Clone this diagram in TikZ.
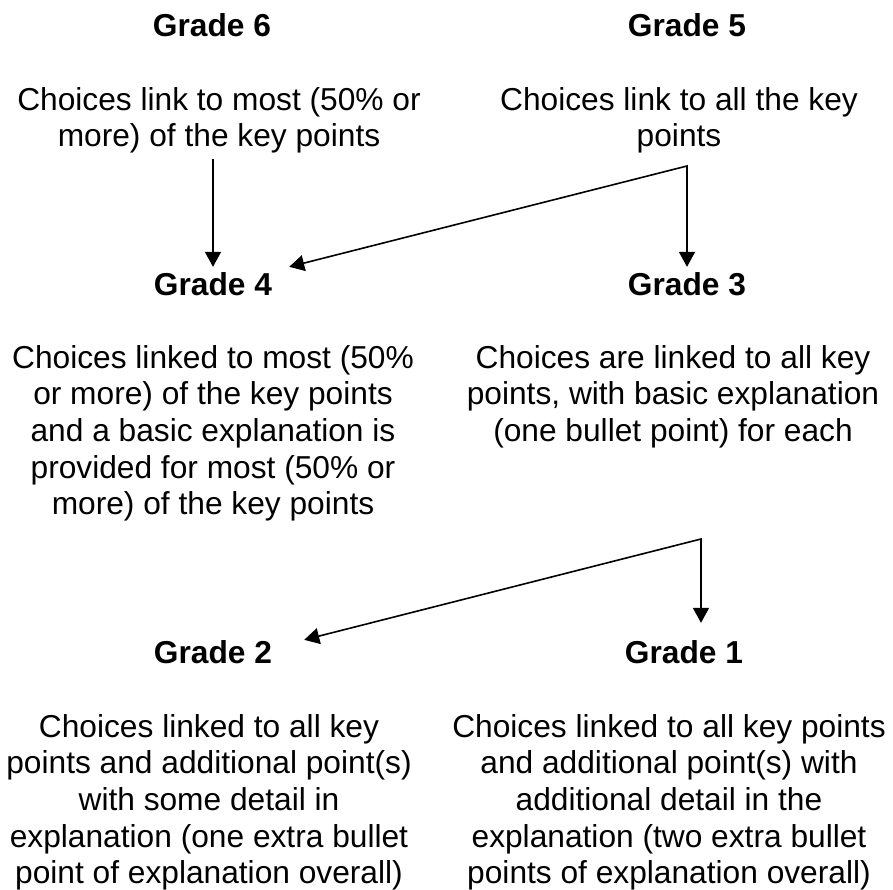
\documentclass[tikz,border=0pt]{standalone}
\usepackage{fontspec}
\setmainfont{Liberation Sans}
\usetikzlibrary{arrows.meta,calc}
\newcommand{\mytopstr}{\rule{0pt}{23pt}}
\begin{document}
\begin{tikzpicture}[x=1pt,y=-1pt,
  grade/.style={font=\fontsize{31.7}{36.6}\selectfont\bfseries, inner xsep=0pt, inner ysep=5pt, anchor=base},
  desc/.style={font=\fontsize{31.7}{36.6}\selectfont, align=center, inner sep=0pt, anchor=north},
  tipa/.style={line width=1.6pt, line join=miter, -{Triangle[length=15pt,width=16pt]}},
  tipb/.style={line width=1.6pt, line join=miter, {Triangle[length=15pt,width=16pt]}-{Triangle[length=15pt,width=16pt]}}]
\useasboundingbox (0,0) rectangle (893,890);

\node[grade] (g6) at (212,37) {Grade 6};
\node[grade] (g5) at (687,37) {Grade 5};
\node[desc] (d6) at (219,87) {\mytopstr Choices link to most (50\% or\\more) of the key points};
\node[desc] (d5) at (679,87) {\mytopstr Choices link to all the key\\points};

\node[grade] (g4) at (213,295) {Grade 4};
\node[grade] (g3) at (687,295) {Grade 3};
\node[desc] (d4) at (213,345) {\mytopstr Choices linked to most (50\%\\or more) of the key points\\and a basic explanation is\\provided for most (50\% or\\more) of the key points};
\node[desc] (d3) at (673,345) {\mytopstr Choices are linked to all key\\points, with basic explanation\\(one bullet point) for each};

\node[grade] (g2) at (213,663) {Grade 2};
\node[grade] (g1) at (684,663) {Grade 1};
\node[desc] (d2) at (209,714) {\mytopstr Choices linked to all key\\points and additional point(s)\\with some detail in\\explanation (one extra bullet\\point of explanation overall)};
\node[desc] (d1) at (669,714) {\mytopstr Choices linked to all key points\\and additional point(s) with\\additional detail in the\\explanation (two extra bullet\\points of explanation overall)};

\coordinate (c6) at (213,159);
\coordinate (c5) at (687,166);
\coordinate (c3) at (701,539);

\draw[tipa] (c6) -- (c6 |- g4.north);
\draw[tipb] ($(g4.north east)+(17,0)$) -- (c5) -- (c5 |- g3.north);
\draw[tipb] ($(g2.north east)+(32,5)$) -- (c3) -- ($(c3 |- g1.north)+(0,-12)$);
\end{tikzpicture}
\end{document}
